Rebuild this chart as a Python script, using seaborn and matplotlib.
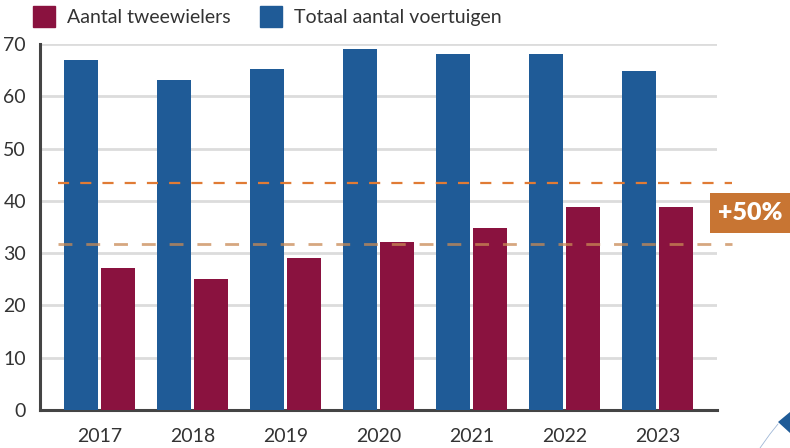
import matplotlib
matplotlib.use("Agg")
import matplotlib.pyplot as plt
import matplotlib.patches as mpatches
import seaborn as sns
import pandas as pd

years = ["2017", "2018", "2019", "2020", "2021", "2022", "2023"]
totaal = [67, 63.1, 65.2, 69, 68, 68, 64.8]
tweewielers = [27.2, 25, 29.1, 32.1, 34.8, 38.8, 38.8]
series_names = ["Totaal aantal voertuigen", "Aantal tweewielers"]
ref_low = 31.8
ref_high = 43.5
badge_text = "+50%"

BLUE = "#1f5b97"
RED = "#8a123f"
ORANGE = "#c87533"

df = pd.DataFrame({
    "year": years * 2,
    "value": totaal + tweewielers,
    "serie": [series_names[0]] * len(years) + [series_names[1]] * len(years),
})

sns.set_style("white")
plt.rcParams["font.family"] = ["Lato", "DejaVu Sans"]

fig = plt.figure(figsize=(7.9, 4.48), dpi=100)
ax = fig.add_axes([40 / 790, 38 / 448, 677 / 790, 366 / 448])

sns.barplot(data=df, x="year", y="value", hue="serie", hue_order=series_names,
            palette=[BLUE, RED], width=0.785, gap=0.07, saturation=1,
            linewidth=0, edgecolor="none",
            ax=ax, legend=False, zorder=3)

ax.set_xlim(-0.64, 6.64)
ax.set_ylim(0, 70)
ax.set_yticks(range(0, 71, 10))
ax.yaxis.grid(True, color="#dcdcdc", linewidth=2, zorder=0)
ax.set_axisbelow(True)
ax.set_xlabel("")
ax.set_ylabel("")
for s in ["top", "right"]:
    ax.spines[s].set_visible(False)
for s in ["left", "bottom"]:
    ax.spines[s].set_color("#444444")
    ax.spines[s].set_linewidth(2.2)
ax.tick_params(axis="both", length=0, labelsize=14, colors="#333333")
ax.tick_params(axis="y", pad=10)
ax.tick_params(axis="x", pad=13)

# dashed reference lines (extend slightly beyond axes)
ax.plot([-0.45, 6.8], [ref_high, ref_high], ls=(0, (5, 5)), color="#e07b35",
        lw=1.6, zorder=5, clip_on=False)
ax.plot([-0.45, 6.8], [ref_low, ref_low], ls=(0, (5, 5)), color="#c98a55",
        lw=2.0, alpha=0.75, zorder=5, clip_on=False)

# badge
badge = mpatches.Rectangle((710 / 790, (448 - 233) / 448), 80 / 790, 40 / 448,
                           transform=fig.transFigure, facecolor=ORANGE,
                           edgecolor="none")
fig.patches.append(badge)
fig.text(750 / 790, (448 - 213) / 448, badge_text, color="white",
         fontsize=18, fontweight="heavy", ha="center", va="center")

# legend
handles = [mpatches.Patch(color=RED, label=series_names[1]),
           mpatches.Patch(color=BLUE, label=series_names[0])]
fig.legend(handles=handles, loc="upper left",
           bbox_to_anchor=(33 / 790, 1 - 6 / 448),
           ncol=2, frameon=False, fontsize=14, handlelength=1.15,
           handleheight=1.3, handletextpad=0.6, columnspacing=1.5,
           borderaxespad=0, borderpad=0, labelcolor="#333333")

# corner decoration
tri = mpatches.Polygon([(778 / 790, 26 / 448), (790 / 790, 36 / 448),
                        (790 / 790, 15 / 448)], closed=True,
                       transform=fig.transFigure, facecolor=BLUE,
                       edgecolor="none")
fig.patches.append(tri)
fig.lines.append(plt.Line2D([760 / 790, 770 / 790, 778 / 790],
                            [0, 14 / 448, 24 / 448],
                            transform=fig.transFigure, color="#9fb7d6",
                            lw=0.6))

fig.savefig("out.png", dpi=100)
